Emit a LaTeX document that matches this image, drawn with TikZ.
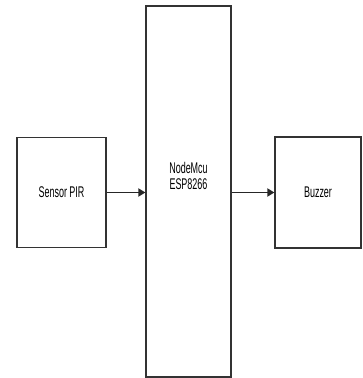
\documentclass[tikz,border=0pt]{standalone}
\usepackage{fontspec}
\setmainfont{Liberation Sans}[FakeStretch=0.58]
\usetikzlibrary{arrows.meta,positioning}

\begin{document}
\begin{tikzpicture}[x=1pt,y=-1pt,
  block/.style={draw=black!80,line width=1.2pt,fill=white,inner sep=0pt},
  lbl/.style={font=\fontsize{15.5}{16}\selectfont,align=center},
  link/.style={->,>={Triangle[length=7pt,width=8pt]},line width=1.8pt,draw=black!85}]
\useasboundingbox (0,0) rectangle (362,378);
\node[block,minimum width=89pt,minimum height=110pt] (pir) at (61.5,192.5) {};
\node[block,minimum width=85pt,minimum height=371pt] (mcu) at (188.5,191.5) {};
\node[block,minimum width=86pt,minimum height=111pt] (buz) at (318,192.5) {};
\node[lbl] (pirtxt) at (pir.center) {Sensor PIR};
\node[lbl] (mcutxt) at (188.5,176) {NodeMcu\\ESP8266};
\node[lbl] (buztxt) at (buz.center) {Buzzer};
\draw[link] (pir.east) -- (pir.east -| mcu.west);
\draw[link] (mcu.east |- buz.west) -- (buz.west);
\end{tikzpicture}
\end{document}
